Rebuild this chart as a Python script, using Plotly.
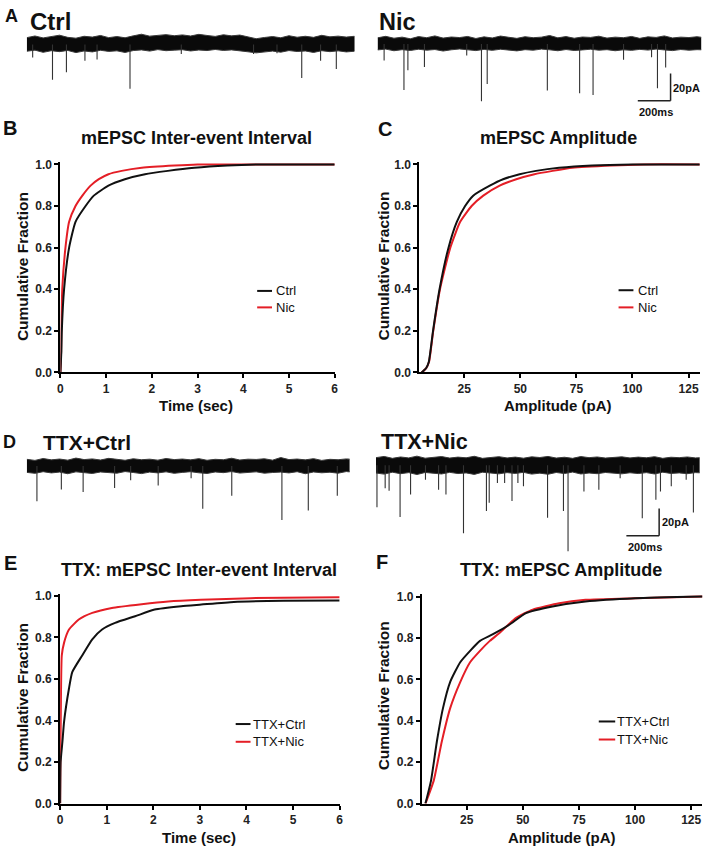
import plotly.graph_objects as go

W, H = 710, 853
FONT = "Arial, Liberation Sans, Helvetica, sans-serif"
BLACK = "#111111"
RED = "#e41e26"

# ---------------- data: example traces (ms, pA) ----------------
NOISE_T = list(range(0, 2001, 50))

A_CTRL_HI = [5.0, 6.2, 4.8, 5.6, 6.8, 5.2, 4.6, 6.0, 5.4, 6.6, 5.0, 5.8, 4.9, 6.3, 7.5, 6.1, 6.8, 7.2, 6.4, 7.0,
             6.2, 7.4, 6.6, 5.9, 7.1, 6.3, 6.9, 5.5, 4.2, 5.1, 5.8, 4.9, 6.4, 5.3, 6.0, 5.2, 6.7, 5.6, 6.1, 5.4, 6.0]
A_CTRL_LO = [-5.0, -4.2, -5.8, -4.6, -5.3, -4.4, -6.0, -4.8, -5.5, -4.3, -5.1, -4.7, -5.9, -4.5, -4.0, -4.9, -3.8,
             -4.6, -4.2, -3.9, -4.8, -4.1, -4.5, -3.7, -4.4, -4.0, -4.6, -5.4, -6.2, -5.6, -4.9, -5.7, -4.5, -5.2,
             -4.8, -5.9, -4.6, -5.3, -4.7, -5.5, -5.0]
A_CTRL_EV_T = [36, 157, 242, 355, 429, 630, 943, 1384, 1527, 1678, 1793, 1889]
A_CTRL_EV_AMP = [9.6, 26.0, 20.5, 12.0, 11.0, 32.6, 7.0, 7.0, 6.5, 24.6, 12.0, 18.0]

A_NIC_HI = [4.5, 5.6, 4.2, 5.0, 3.8, 5.4, 4.6, 5.9, 4.3, 5.1, 4.7, 5.5, 4.0, 5.2, 4.4, 5.8, 4.9, 4.1, 5.3, 4.6,
            5.0, 6.2, 4.5, 5.4, 4.2, 5.1, 4.8, 5.7, 4.3, 5.0, 4.6, 5.5, 4.1, 5.2, 4.8, 5.9, 4.4, 5.0, 4.7, 5.3, 4.5]
A_NIC_LO = [-4.4, -3.8, -5.0, -4.2, -4.8, -3.9, -4.6, -4.1, -5.2, -4.3, -3.7, -4.5, -4.9, -4.0, -4.7, -3.9, -4.4,
            -5.1, -4.2, -4.6, -3.8, -4.3, -5.0, -4.1, -4.8, -4.4, -3.9, -4.6, -4.2, -5.0, -4.3, -4.7, -4.0, -4.5,
            -3.8, -4.4, -4.9, -4.1, -4.6, -4.2, -4.4]
A_NIC_EV_T = [40, 161, 185, 286, 544, 634, 669, 1036, 1233, 1315, 1501, 1672, 1708, 1758]
A_NIC_EV_AMP = [12.1, 33.8, 19.3, 16.9, 8.5, 42.2, 29.5, 34.3, 36.2, 37.5, 11.6, 9.7, 32.6, 17.4]

D_CTRL_HI = [5.0, 4.2, 5.6, 4.6, 5.2, 4.4, 5.9, 4.8, 5.3, 4.5, 5.7, 4.9, 4.3, 5.4, 4.7, 5.1, 4.4, 5.6, 4.8, 5.2,
             4.6, 5.5, 4.3, 5.0, 4.7, 5.8, 4.5, 5.1, 4.9, 5.4, 4.4, 6.3, 4.8, 5.2, 4.6, 5.5, 4.2, 5.0, 4.7, 5.3, 4.9]
D_CTRL_LO = [-4.6, -5.3, -4.1, -5.0, -4.4, -5.6, -4.2, -4.9, -5.4, -4.3, -4.8, -5.2, -4.0, -4.7, -5.5, -4.4, -5.0,
             -4.2, -5.3, -4.6, -4.1, -4.9, -5.4, -4.3, -4.8, -4.0, -5.1, -4.5, -4.2, -5.2, -4.7, -4.4, -5.0, -4.1,
             -5.6, -4.3, -4.9, -4.5, -5.2, -4.0, -4.6]
D_CTRL_EV_T = [62, 211, 344, 536, 634, 802, 1003, 1074, 1251, 1557, 1718, 1895]
D_CTRL_EV_AMP = [25.8, 17.2, 19.1, 16.0, 10.3, 14.3, 9.0, 31.4, 21.7, 39.6, 32.6, 21.7]

D_NIC_HI = [5.5, 6.4, 5.0, 6.0, 5.3, 6.6, 5.1, 5.8, 6.3, 5.2, 5.9, 5.4, 6.5, 5.0, 5.7, 6.2, 5.3, 5.9, 5.1, 6.1,
            5.6, 6.4, 5.2, 5.8, 5.0, 6.3, 5.5, 6.0, 5.2, 5.7, 6.1, 5.3, 5.9, 5.4, 6.2, 5.0, 5.8, 5.5, 6.0, 5.3, 5.6]
D_NIC_LO = [-5.8, -6.6, -5.2, -6.3, -5.5, -6.9, -5.4, -6.0, -6.5, -5.3, -6.2, -5.7, -6.8, -5.2, -6.0, -6.4, -5.5,
            -6.1, -5.3, -6.6, -5.9, -6.7, -5.4, -6.2, -5.1, -6.5, -5.8, -6.3, -5.4, -6.0, -6.4, -5.6, -6.2, -5.5,
            -6.5, -5.2, -6.1, -5.7, -6.3, -5.5, -5.8]
D_NIC_EV_T = [6, 56, 80, 147, 211, 302, 382, 427, 534, 674, 691, 741, 785, 830, 866, 900, 1047, 1144, 1172,
              1269, 1360, 1490, 1625, 1708, 1736, 1802, 1893, 1937]
D_NIC_EV_AMP = [30.9, 16.9, 18.8, 38.1, 21.6, 10.8, 18.1, 21.6, 50.1, 33.7, 27.7, 13.2, 13.2, 26.4, 13.2, 15.6,
                38.6, 33.7, 63.3, 19.3, 18.1, 9.6, 39.1, 25.4, 19.3, 15.6, 10.8, 34.9]

SCALE_MS = 200
SCALE_PA = 20

# ---------------- data: cumulative distributions ----------------
B_CTRL_X = [0.0, 0.02, 0.03, 0.08, 0.19, 0.33, 0.55, 0.73, 1.05, 1.41, 1.85, 2.35, 2.93, 3.65, 4.3, 6.0]
B_CTRL_Y = [0.0, 0.1, 0.2, 0.4, 0.6, 0.724, 0.8, 0.85, 0.898, 0.929, 0.953, 0.969, 0.984, 0.995, 1.0, 1.0]
B_NIC_X = [0.0, 0.015, 0.02, 0.04, 0.11, 0.19, 0.33, 0.48, 0.66, 0.84, 1.05, 1.34, 1.78, 2.5, 3.0, 6.0]
B_NIC_Y = [0.0, 0.1, 0.2, 0.4, 0.6, 0.724, 0.8, 0.85, 0.898, 0.929, 0.953, 0.969, 0.984, 0.995, 1.0, 1.0]

C_CTRL_X = [6.0, 8.0, 9.2, 11.1, 14.0, 18.0, 21.7, 25.4, 29.0, 36.4, 42.3, 49.7, 57.0, 67.3, 82.0, 100, 130]
C_CTRL_Y = [0.0, 0.02, 0.05, 0.2, 0.4, 0.6, 0.724, 0.8, 0.85, 0.898, 0.929, 0.953, 0.969, 0.984, 0.995, 1.0, 1.0]
C_NIC_X = [6.0, 8.0, 9.3, 11.2, 14.2, 18.8, 23.2, 28.3, 33.5, 40.8, 48.2, 56.3, 64.4, 73.2, 90.9, 105, 130]
C_NIC_Y = [0.0, 0.02, 0.05, 0.2, 0.4, 0.6, 0.724, 0.8, 0.85, 0.898, 0.929, 0.953, 0.969, 0.984, 0.995, 1.0, 1.0]

E_CTRL_X = [0.0, 0.01, 0.05, 0.085, 0.19, 0.26, 0.47, 0.69, 0.90, 1.18, 1.61, 2.03, 2.60, 3.03, 3.73, 4.8, 6.0]
E_CTRL_Y = [0.0, 0.2, 0.3, 0.395, 0.554, 0.633, 0.712, 0.791, 0.838, 0.870, 0.902, 0.934, 0.95, 0.958, 0.971,
            0.976, 0.978]
E_NIC_X = [0.0, 0.005, 0.015, 0.035, 0.085, 0.19, 0.40, 0.69, 1.11, 1.75, 2.32, 3.02, 4.09, 6.0]
E_NIC_Y = [0.0, 0.2, 0.45, 0.712, 0.775, 0.838, 0.886, 0.918, 0.942, 0.96, 0.973, 0.981, 0.989, 0.993]

F_CTRL_X = [6.6, 9.1, 11.7, 14.4, 17.6, 22.1, 26.5, 30.9, 36.7, 44.1, 51.4, 63.2, 77.9, 100, 130]
F_CTRL_Y = [0.0, 0.111, 0.30, 0.46, 0.587, 0.683, 0.738, 0.786, 0.818, 0.865, 0.92, 0.952, 0.976, 0.992, 1.0]
F_NIC_X = [6.6, 10.3, 13.9, 17.6, 22.1, 26.5, 30.9, 35.3, 39.7, 47.0, 54.4, 66.2, 77.9, 100, 130]
F_NIC_Y = [0.0, 0.111, 0.30, 0.46, 0.587, 0.683, 0.738, 0.786, 0.825, 0.897, 0.937, 0.968, 0.984, 0.992, 1.0]

IEI_TICKS = [0, 1, 2, 3, 4, 5, 6]
AMP_TICKS = [25, 50, 75, 100, 125]
FRAC_TICKS = [0.0, 0.2, 0.4, 0.6, 0.8, 1.0]

# ---------------- helpers ----------------
def fx(p):
    return p / W

def fy(p):
    return 1 - p / H

PX_PER_MS = 0.1655
PX_PER_PA = 1.38

fig = go.Figure()
layout = {}
annotations = []
shapes = []


def trace_axes(n, x0, dur, top, bot, base):
    x1 = x0 + dur * PX_PER_MS
    layout["xaxis%d" % n] = dict(domain=[fx(x0), fx(x1)], range=[0, dur], visible=False,
                                 anchor="y%d" % n, fixedrange=True)
    layout["yaxis%d" % n] = dict(domain=[fy(bot), fy(top)],
                                 range=[-(bot - base) / PX_PER_PA, (base - top) / PX_PER_PA],
                                 visible=False, anchor="x%d" % n, fixedrange=True)


def add_trace_panel(n, hi, lo, ev_t, ev_amp):
    pts = list(zip(NOISE_T, hi, lo))
    xs = [p[0] for p in pts] + [p[0] for p in pts[::-1]]
    ys = [p[1] for p in pts] + [p[2] for p in pts[::-1]]
    fig.add_trace(go.Scatter(x=xs, y=ys, mode="lines", fill="toself", fillcolor="#0a0a0a",
                             line=dict(color="#3a3a3a", width=1), hoverinfo="skip",
                             xaxis="x%d" % n, yaxis="y%d" % n, showlegend=False))
    ex, ey = [], []
    for t, a in zip(ev_t, ev_amp):
        ex += [t, t, None]
        ey += [0, -a, None]
    fig.add_trace(go.Scatter(x=ex, y=ey, mode="lines", line=dict(color="#333333", width=1.1),
                             hoverinfo="skip", xaxis="x%d" % n, yaxis="y%d" % n, showlegend=False))


def cum_axes(n, xdom, ydom, xrange, xticks, ytop_val=1.01):
    axis_common = dict(showline=True, linewidth=2, linecolor="black", ticks="outside", ticklen=4,
                       tickwidth=1.5, tickcolor="black", showgrid=False, zeroline=False,
                       tickfont=dict(family=FONT, size=12, color="#222", weight="bold"), fixedrange=True)
    layout["xaxis%d" % n] = dict(domain=[fx(xdom[0]), fx(xdom[1])], range=xrange, tickvals=xticks,
                                 anchor="y%d" % n, **axis_common)
    top = ydom[1] - (ydom[1] - ydom[0]) * ytop_val
    layout["yaxis%d" % n] = dict(domain=[fy(ydom[1]), fy(top)], range=[0, ytop_val], tickvals=FRAC_TICKS,
                                 tickformat=".1f", anchor="x%d" % n, **axis_common)


def add_curves(n, series):
    for xs, ys, color, name in series:
        fig.add_trace(go.Scatter(x=xs, y=ys, mode="lines", name=name,
                                 line=dict(color=color, width=2, shape="spline", smoothing=0.5),
                                 xaxis="x%d" % n, yaxis="y%d" % n, showlegend=False))


def text(x, y, s, size, bold=True, xanchor="center", yanchor="middle", angle=0):
    annotations.append(dict(x=fx(x), y=fy(y), xref="paper", yref="paper", text=s, showarrow=False,
                            xanchor=xanchor, yanchor=yanchor, textangle=angle, borderpad=0,
                            font=dict(family=FONT, size=size, color="#111",
                                      weight="bold" if bold else "normal")))


def legend(items, x0, x1, y0, dy, tx):
    for i, (name, color) in enumerate(items):
        y = y0 + i * dy
        shapes.append(dict(type="line", xref="paper", yref="paper", x0=fx(x0), x1=fx(x1), y0=fy(y), y1=fy(y),
                           line=dict(color=color, width=2)))
        text(tx, y, name, 13, bold=False, xanchor="left")


# ---------------- traces (A, D) ----------------
trace_axes(1, 24, 2000, 25, 95, 40)
add_trace_panel(1, A_CTRL_HI, A_CTRL_LO, A_CTRL_EV_T, A_CTRL_EV_AMP)
trace_axes(2, 378.3, 1975, 25, 100, 39.5)
add_trace_panel(2, A_NIC_HI, A_NIC_LO, A_NIC_EV_T, A_NIC_EV_AMP)
trace_axes(5, 24, 1970, 452, 530, 467.7)
add_trace_panel(5, D_CTRL_HI, D_CTRL_LO, D_CTRL_EV_T, D_CTRL_EV_AMP)
trace_axes(6, 376.7, 1975, 452, 560, 466.7)
add_trace_panel(6, D_NIC_HI, D_NIC_LO, D_NIC_EV_T, D_NIC_EV_AMP)

# scale bars
for n, corner_t, corner_a in [(2, 1788, -41.7), (6, 1728, -51.9)]:
    xr, yr = "x%d" % n, "y%d" % n
    shapes.append(dict(type="line", xref=xr, yref=yr, x0=corner_t, x1=corner_t, y0=corner_a,
                       y1=corner_a + SCALE_PA, line=dict(color="#222", width=1.5)))
    shapes.append(dict(type="line", xref=xr, yref=yr, x0=corner_t - SCALE_MS, x1=corner_t, y0=corner_a,
                       y1=corner_a, line=dict(color="#222", width=1.5)))
text(676, 84, "%dpA" % SCALE_PA, 11, xanchor="left")
text(659, 109, "%dms" % SCALE_MS, 11)
text(665, 524, "%dpA" % SCALE_PA, 11, xanchor="left")
text(648, 550, "%dms" % SCALE_MS, 11)

# ---------------- cumulative plots ----------------
cum_axes(3, (58, 335), (161.7, 372.7), [0, 6], IEI_TICKS)
add_curves(3, [(B_NIC_X, B_NIC_Y, RED, "Nic"), (B_CTRL_X, B_CTRL_Y, BLACK, "Ctrl")])
cum_axes(4, (420.5, 703.7), (161.7, 372.7), [5, 130], AMP_TICKS)
add_curves(4, [(C_NIC_X, C_NIC_Y, RED, "Nic"), (C_CTRL_X, C_CTRL_Y, BLACK, "Ctrl")])
cum_axes(7, (57.7, 340), (599.3, 810), [0, 6], IEI_TICKS)
add_curves(7, [(E_NIC_X, E_NIC_Y, RED, "TTX+Nic"), (E_CTRL_X, E_CTRL_Y, BLACK, "TTX+Ctrl")])
cum_axes(8, (423, 706.4), (600, 810), [5, 130], AMP_TICKS)
add_curves(8, [(F_NIC_X, F_NIC_Y, RED, "TTX+Nic"), (F_CTRL_X, F_CTRL_Y, BLACK, "TTX+Ctrl")])

legend([("Ctrl", BLACK), ("Nic", RED)], 256.7, 271.7, 290, 16.7, 275)
legend([("Ctrl", BLACK), ("Nic", RED)], 621.7, 636.7, 289.3, 17.4, 640)
legend([("TTX+Ctrl", BLACK), ("TTX+Nic", RED)], 235, 250, 729.3, 18, 251)
legend([("TTX+Ctrl", BLACK), ("TTX+Nic", RED)], 601.7, 618.3, 726.7, 18.3, 619)

# ---------------- text ----------------
text(195, 135, "mEPSC Inter-event Interval", 18)
text(561, 135, "mEPSC Amplitude", 18)
text(197.5, 573, "TTX: mEPSC Inter-event Interval", 18)
text(564, 573, "TTX: mEPSC Amplitude", 18)

text(195, 406, "Time (sec)", 15)
text(560, 406, "Amplitude (pA)", 15)
text(198, 844.5, "Time (sec)", 15)
text(564, 844.5, "Amplitude (pA)", 15)
text(19, 265, "Cumulative Fraction", 15.5, angle=-90)
text(384, 265, "Cumulative Fraction", 15.5, angle=-90)
text(19, 702, "Cumulative Fraction", 15.5, angle=-90)
text(384, 701, "Cumulative Fraction", 15.5, angle=-90)

text(8.5, 11.5, "A", 18)
text(7.5, 125, "B", 20)
text(385.5, 125.5, "C", 20)
text(6.5, 443, "D", 18)
text(7.5, 566, "E", 20)
text(383, 565, "F", 20)

text(26, 17, "Ctrl", 24, xanchor="left")
text(379, 17, "Nic", 23.5, xanchor="left")
text(39, 443.5, "TTX+Ctrl", 21, xanchor="left")
text(381, 443.5, "TTX+Nic", 21.5, xanchor="left")

fig.update_layout(width=W, height=H, margin=dict(l=0, r=0, t=0, b=0), paper_bgcolor="white",
                  plot_bgcolor="white", showlegend=False, annotations=annotations, shapes=shapes,
                  font=dict(family=FONT), **layout)

fig.write_html("out.html", config={"displayModeBar": False},
               post_script="document.body.style.margin='0';document.body.style.padding='0';")
